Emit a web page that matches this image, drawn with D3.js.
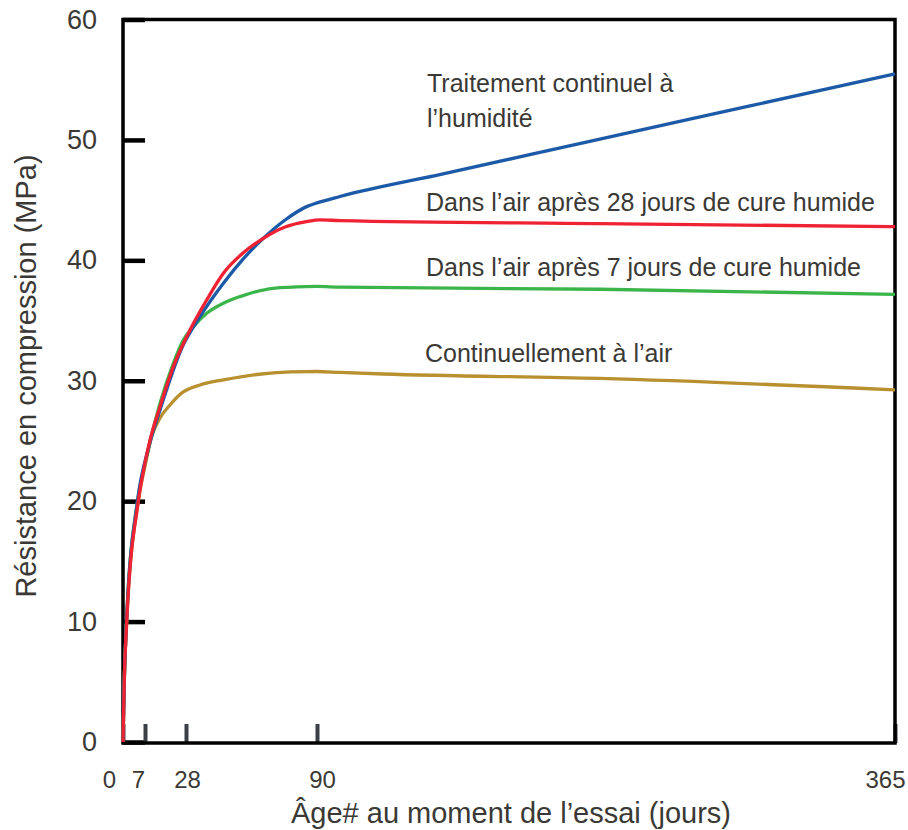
<!DOCTYPE html>
<html>
  <head>
    <meta charset="utf-8">
    <title>Résistance en compression</title>
    <script src="https://d3js.org/d3.v7.min.js" charset="utf-8"></script>
    <style>
      body { margin: 0; background: #fff; }
      text { font-family: "Liberation Sans", Arial, sans-serif; fill: #3b3935; }
    </style>
  </head>
  <body>
    <script>
      var width = 908;
      var height = 830;

      // data (days, MPa)
      var xTicks = [0, 7, 28, 90, 365];
      var yTicks = [0, 10, 20, 30, 40, 50, 60];

      var humideDays = [0, 0.41, 1.11, 4.61, 9.05, 14.7, 26.2, 34.6, 45.7, 55.1, 64.6, 74.9, 85.1, 90, 100.9, 150, 224.6, 296, 365];
      var humideVals = [0, 5.15, 10, 20, 24.58, 27.57, 32.83, 35.32, 38.1, 40.12, 41.83, 43.35, 44.46, 44.77, 45.3, 47.18, 50.07, 52.82, 55.48];

      var air28Days = [0, 0.41, 1.18, 4.87, 7, 9.56, 14.7, 21.5, 29.9, 37.8, 45.7, 55, 64.6, 74.9, 85.1, 91.4, 100.9, 224.6, 365];
      var air28Vals = [0, 5.15, 10, 20, 23.17, 25.06, 27.85, 31.17, 34.22, 36.71, 38.93, 40.61, 41.83, 42.77, 43.21, 43.36, 43.3, 43.05, 42.8];

      var air7Days = [0, 0.41, 1.11, 4.61, 7, 9.56, 14.7, 21.5, 26.6, 31.5, 37.8, 45.7, 53.6, 69.3, 85.1, 90, 100.9, 224.6, 365];
      var air7Vals = [0, 5.15, 10, 20, 23.09, 24.92, 28.13, 31.45, 33.39, 34.49, 35.6, 36.44, 36.99, 37.68, 37.82, 37.83, 37.77, 37.6, 37.18];

      var airDays = [0, 0.41, 1.18, 4.87, 7, 10.4, 14.7, 19.8, 26.6, 34.6, 45.7, 61.5, 77.3, 90, 100.9, 121.4, 224.6, 365];
      var airVals = [0, 5.15, 10, 20, 22.92, 25.36, 26.91, 27.99, 29.07, 29.65, 30.07, 30.52, 30.73, 30.77, 30.69, 30.56, 30.19, 29.24];

      var seriesNames = ["Continuellement à l’air", "Dans l’air après 7 jours de cure humide",
                         "Traitement continuel à l’humidité", "Dans l’air après 28 jours de cure humide"];
      var seriesDays = [airDays, air7Days, humideDays, air28Days];
      var seriesVals = [airVals, air7Vals, humideVals, air28Vals];
      var seriesColors = ["#b8902f", "#3bb54a", "#1c5aa8", "#ee2232"];

      var svg = d3.select("body")
          .append("svg")
          .attr("width", width)
          .attr("height", height);

      // x axis is stretched between the test ages
      var x = d3.scaleLinear().domain(xTicks).range([123, 145, 186, 317, 895]);
      var y = d3.scaleLinear().domain([0, 60]).range([742, 19.5]);

      // y axis, ticks inside
      var gy = svg.append("g")
          .attr("transform", "translate(123,0)")
          .call(d3.axisLeft(y).tickValues(yTicks).tickSizeInner(-22).tickSizeOuter(0).tickPadding(26));
      gy.select(".domain").remove();
      gy.selectAll("line").attr("stroke", "#000").attr("stroke-width", 4.5);
      gy.selectAll("text").style("font-size", "27px").attr("fill", "#3b3935");

      // x axis
      var labelShift = {0: -14, 7: -7, 28: 1, 90: 5, 365: -10};
      var gx = svg.append("g")
          .attr("transform", "translate(0,743)")
          .call(d3.axisBottom(x).tickValues(xTicks).tickSizeInner(-19).tickSizeOuter(0).tickPadding(28));
      gx.select(".domain").remove();
      gx.selectAll("line").attr("stroke", "#3d3f46").attr("stroke-width", 4);
      gx.selectAll("text").style("font-size", "24px").attr("fill", "#3b3935")
        .attr("dx", function(d) { return labelShift[d]; });

      // frame
      svg.append("rect")
        .attr("x", x(0)).attr("y", y(60))
        .attr("width", x(365) - x(0)).attr("height", y(0) - y(60) + 1)
        .attr("fill", "none").attr("stroke", "#000").attr("stroke-width", 3.5);

      var line = d3.line()
          .x(function(d) { return x(d[0]); })
          .y(function(d) { return y(d[1]); })
          .curve(d3.curveMonotoneX);

      svg.append("g").selectAll("path")
        .data(seriesDays.map(function(days, i) {
          return days.map(function(d, j) { return [d, seriesVals[i][j]]; });
        }))
        .enter()
        .append("path")
        .attr("d", line)
        .attr("fill", "none")
        .attr("stroke", function(d, i) { return seriesColors[i]; })
        .attr("stroke-width", 3.3)
        .attr("stroke-linejoin", "round");

      // curve labels
      var notes = svg.append("g").style("font-size", "25px");
      notes.append("text").attr("x", 427).attr("y", 92).text("Traitement continuel à");
      notes.append("text").attr("x", 427).attr("y", 127).text("l’humidité");
      notes.append("text").attr("x", 426).attr("y", 211).text(seriesNames[3]);
      notes.append("text").attr("x", 426).attr("y", 276).text(seriesNames[1]);
      notes.append("text").attr("x", 425).attr("y", 362).text(seriesNames[0]);

      // axis titles
      svg.append("text")
        .attr("transform", "translate(36,376) rotate(-90)")
        .attr("text-anchor", "middle")
        .style("font-size", "29px")
        .text("Résistance en compression (MPa)");

      svg.append("text")
        .attr("x", 511).attr("y", 823)
        .attr("text-anchor", "middle")
        .style("font-size", "29px")
        .text("Âge# au moment de l’essai (jours)");
    </script>
  </body>
</html>
